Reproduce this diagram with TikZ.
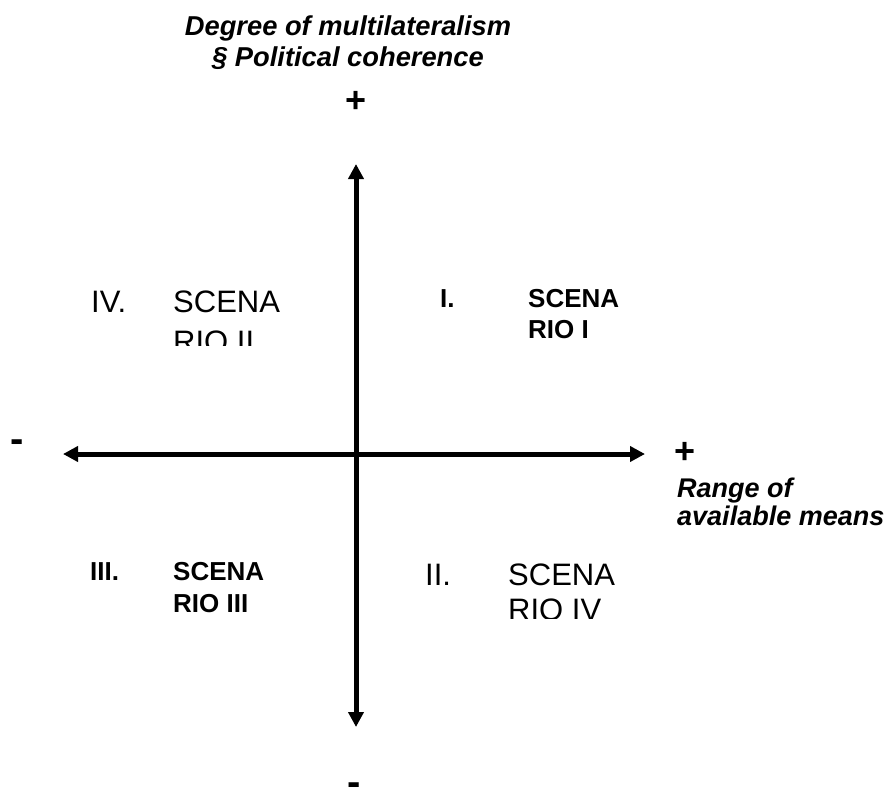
\documentclass[tikz,border=0pt]{standalone}
\usepackage{fontspec}
\setmainfont{Liberation Sans}
\usetikzlibrary{arrows.meta}
\begin{document}
\begin{tikzpicture}[x=1pt,y=-1pt,
  axis/.style={line width=5pt,{Triangle[length=15pt,width=15pt]}-{Triangle[length=15pt,width=15pt]}},
  lab/.style={font=\fontsize{27.3}{31}\selectfont\bfseries\itshape,inner sep=0pt,anchor=base},
  labw/.style={font=\fontsize{27}{31}\selectfont\bfseries\itshape,inner sep=0pt,anchor=base west},
  plussign/.style={font=\fontsize{36}{36}\selectfont\bfseries,inner sep=0pt,anchor=base},
  minussign/.style={font=\fontsize{40}{40}\selectfont\bfseries,inner sep=0pt,anchor=base},
  reg/.style={font=\fontsize{31}{36}\selectfont,inner sep=0pt,anchor=base west},
  bld/.style={font=\fontsize{26}{31}\selectfont\bfseries,inner sep=0pt,anchor=base west}]
\useasboundingbox (0,0) rectangle (894,796);
% axes
\coordinate (top) at (356,164);
\coordinate (bottom) at (356,727);
\coordinate (left) at (63,454);
\coordinate (right) at (645,454);
\draw[axis] (bottom) -- (top);
\draw[axis] (left) -- (right);
% axis labels
\node[lab] (t1) at (348,35) {Degree of multilateralism};
\node[lab] (t2) at (348,66) {§ Political coherence};
\node[plussign] (ptop) at (356,112) {+};
\node[minussign] (mleft) at (17,452) {-};
\node[plussign] (pright) at (685,463) {+};
\node[labw] (r1) at (677,497) {Range of};
\node[labw] (r2) at (677,525) {available means};
\node[minussign] (mbottom) at (354,795) {-};
% quadrant I
\node[bld] (q1n) at (440,307) {I.};
\node[bld] (q1a) at (528,307) {SCENA};
\node[bld] (q1b) at (528,338) {RIO I};
% quadrant IV
\node[reg] (q4n) at (91,312) {IV.};
\begin{scope}
\clip (100,270) rectangle (340,345);
\node[reg] (q4a) at (173,312) {SCENA};
\node[reg] (q4b) at (173,352) {RIO II};
\end{scope}
% quadrant III
\node[bld] (q3n) at (90,580) {III.};
\node[bld] (q3a) at (173,580) {SCENA};
\node[bld] (q3b) at (173,612) {RIO III};
% quadrant II
\node[reg] (q2n) at (425,585) {II.};
\begin{scope}
\clip (480,550) rectangle (660,618);
\node[reg] (q2a) at (508,585) {SCENA};
\node[reg] (q2b) at (508,620) {RIO IV};
\end{scope}
\end{tikzpicture}
\end{document}
